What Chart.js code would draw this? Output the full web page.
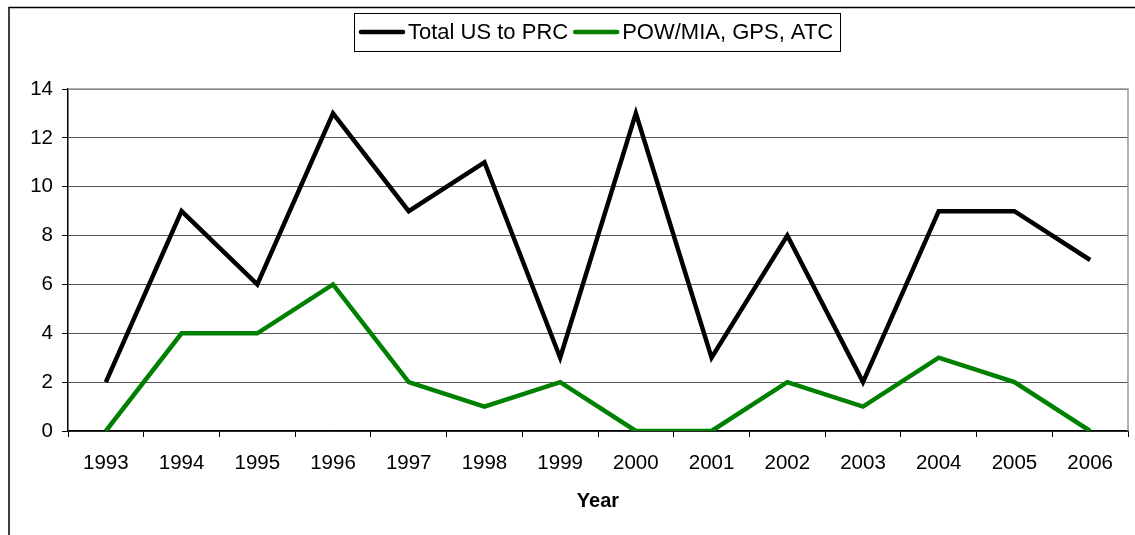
<!DOCTYPE html>
<html>
<head>
<meta charset="utf-8">
<script src="https://cdn.jsdelivr.net/npm/chart.js@4"></script>
<style>
  html, body { margin: 0; padding: 0; background: #fff; }
  #wrap { width: 1135px; height: 535px; }
</style>
</head>
<body>
<div id="wrap"><canvas id="lineChart" width="1135" height="535"></canvas></div>
<script>
const years = ['1993', '1994', '1995', '1996', '1997', '1998', '1999', '2000', '2001', '2002', '2003', '2004', '2005', '2006'];
const totalUsToPrc = [2, 9, 6, 13, 9, 11, 3, 13, 3, 8, 2, 9, 9, 7];
const powMiaGpsAtc = [0, 4, 4, 6, 2, 1, 2, 0, 0, 2, 1, 3, 2, 0];
const yTicks = [0, 2, 4, 6, 8, 10, 12, 14];

const FONT = '"Liberation Sans", Arial, sans-serif';

// outer frame + boxed legend, drawn like the old Excel chart
const excelFrame = {
  id: 'excelFrame',
  afterDraw(chart) {
    const ctx = chart.ctx;
    const area = chart.chartArea;
    ctx.save();
    // outer border (only top and left visible in the picture)
    ctx.strokeStyle = '#000';
    ctx.lineWidth = 1.5;
    ctx.beginPath();
    ctx.moveTo(9, 535);
    ctx.lineTo(9, 7.5);
    ctx.lineTo(1135, 7.5);
    ctx.stroke();

    // plot area border on top/right
    ctx.strokeStyle = '#999';
    ctx.lineWidth = 1.5;
    ctx.beginPath();
    ctx.moveTo(area.left, area.top);
    ctx.lineTo(area.right, area.top);
    ctx.lineTo(area.right, area.bottom);
    ctx.stroke();

    // legend
    ctx.font = '22px ' + FONT;
    ctx.textBaseline = 'middle';
    const cy = 32;
    let x = 361;
    chart.data.datasets.forEach(ds => {
      ctx.strokeStyle = ds.borderColor;
      ctx.lineWidth = 4.5;
      ctx.lineCap = 'round';
      ctx.beginPath();
      ctx.moveTo(x, cy);
      ctx.lineTo(x + 42, cy);
      ctx.stroke();
      x += 47;
      ctx.fillStyle = '#000';
      ctx.fillText(ds.label, x, cy + 1);
      x += ctx.measureText(ds.label).width + 7;
    });
    ctx.strokeStyle = '#000';
    ctx.lineWidth = 1;
    ctx.strokeRect(354.5, 13.5, Math.round(x - 354), 38);
    ctx.restore();
  }
};

new Chart(document.getElementById('lineChart'), {
  type: 'line',
  data: {
    labels: years,
    datasets: [
      {
        label: 'Total US to PRC',
        data: totalUsToPrc,
        borderColor: '#000000',
        backgroundColor: '#000000',
        borderWidth: 4.5,
        borderJoinStyle: 'miter',
        pointRadius: 0,
        tension: 0
      },
      {
        label: 'POW/MIA, GPS, ATC',
        data: powMiaGpsAtc,
        borderColor: '#008000',
        backgroundColor: '#008000',
        borderWidth: 4.5,
        borderJoinStyle: 'miter',
        pointRadius: 0,
        tension: 0
      }
    ]
  },
  options: {
    responsive: false,
    animation: false,
    layout: {
      padding: { top: 89, right: 7, bottom: 20, left: 0 }
    },
    plugins: {
      legend: { display: false },
      tooltip: { enabled: false }
    },
    scales: {
      x: {
        type: 'category',
        offset: true,
        grid: {
          offset: true,
          drawOnChartArea: false,
          color: '#000',
          tickLength: 6,
          tickColor: '#000'
        },
        border: { color: '#000', width: 1.5 },
        ticks: {
          color: '#000',
          font: { family: FONT, size: 20.5 },
          padding: 14,
          maxRotation: 0,
          autoSkip: false
        },
        title: {
          display: true,
          text: 'Year',
          color: '#000',
          font: { family: FONT, size: 20, weight: 'bold' },
          padding: { top: 0, bottom: 2 }
        },
        afterFit: s => { s.height = 84; }
      },
      y: {
        min: 0,
        max: 14,
        afterBuildTicks: s => { s.ticks = yTicks.map(v => ({ value: v })); },
        grid: {
          color: '#555',
          lineWidth: 1,
          tickLength: 6,
          tickColor: '#000'
        },
        border: { color: '#000', width: 1.5 },
        ticks: {
          color: '#000',
          font: { family: FONT, size: 20.5 },
          padding: 9
        },
        afterFit: s => { s.width = 68; }
      }
    }
  },
  plugins: [excelFrame]
});
</script>
</body>
</html>
